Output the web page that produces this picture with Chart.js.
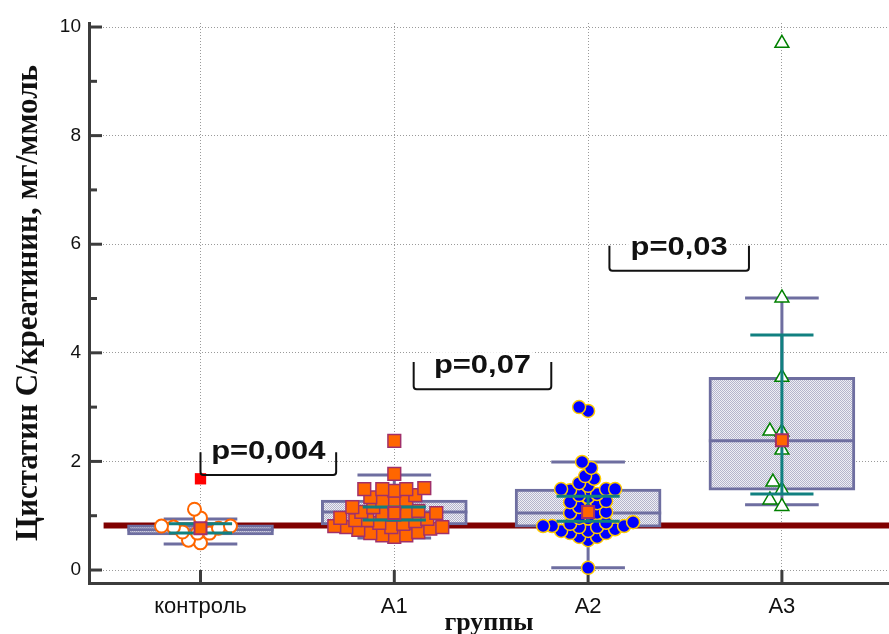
<!DOCTYPE html>
<html>
<head>
<meta charset="utf-8">
<script src="https://cdn.jsdelivr.net/npm/chart.js@4"></script>
<style>
  html, body { margin: 0; padding: 0; background: #fff; }
  canvas { display: block; }
</style>
</head>
<body>
<canvas id="chart" width="889" height="634"></canvas>
<script>
// groups along the x axis
const groups = ['контроль', 'А1', 'А2', 'А3'];

// individual ratios per group
const control = [1.12, 0.96, 0.81, 0.81, 0.79, 0.77, 0.70, 0.68, 0.68, 0.55, 0.50];
const controlOutlier = [1.68];
const a1 = [2.38, 1.77, 1.51, 1.49, 1.49, 1.49, 1.46, 1.38, 1.34, 1.29, 1.27, 1.23, 1.16, 1.16,
  1.09, 1.07, 1.05, 1.05, 1.05, 1.02, 0.96, 0.94, 0.92, 0.92, 0.90, 0.87, 0.85, 0.81,
  0.79, 0.79, 0.79, 0.76, 0.74, 0.70, 0.68, 0.64, 0.64, 0.61];
const a2 = [3.00, 2.93, 1.99, 1.88, 1.73, 1.68, 1.60, 1.55, 1.49, 1.49, 1.49, 1.47, 1.40, 1.38,
  1.34, 1.27, 1.25, 1.23, 1.16, 1.12, 1.07, 1.05, 1.05, 0.96, 0.95, 0.88, 0.87, 0.85,
  0.81, 0.81, 0.81, 0.79, 0.79, 0.75, 0.72, 0.72, 0.68, 0.68, 0.61, 0.61, 0.55, 0.04];
const a3 = [9.70, 5.01, 3.55, 2.56, 2.54, 2.21, 1.62, 1.47, 1.29, 1.17];

// box statistics per group
const q1 = [0.645, 0.83, 0.79, 1.47];
const median = [0.74, 1.07, 1.05, 2.38];
const q3 = [0.83, 1.29, 1.49, 3.55];
const whiskerLow = [0.48, 0.59, 0.04, 1.20];
const whiskerHigh = [0.94, 1.75, 1.99, 5.01];
const ciLow = [0.68, 0.92, 0.90, 1.40];
const ciHigh = [0.85, 1.16, 1.36, 4.33];
const centre = [0.77, 1.05, 1.07, 2.39];

// reference level across the plot
const refLevel = 0.82;

// p-values between groups
const pValues = ['p=0,004', 'p=0,07', 'p=0,03'];

// bracket placement for the p-values (x from/to, y bottom/top)
const pMarks = [
  {from: 1.0, to: 1.70, low: 1.75, high: 2.17},
  {from: 2.10, to: 2.81, low: 3.33, high: 3.83},
  {from: 3.11, to: 3.83, low: 5.51, high: 5.97}
];

const SLATE = '#6e6ea0';
const TEAL = '#118080';
const BOX_HALF = 0.377, CAP_HALF = 0.19, CI_HALF = 0.163;
const X_MIN = 0.4247, X_MAX = 4.5526;

// dotted light fill for the boxes
function boxPattern() {
  const c = document.createElement('canvas');
  c.width = 2; c.height = 2;
  const g = c.getContext('2d');
  g.fillStyle = '#eeeef4';
  g.fillRect(0, 0, 2, 2);
  g.fillStyle = '#b4b4cc';
  g.fillRect(0, 0, 1, 1);
  g.fillRect(1, 1, 1, 1);
  return g.createPattern(c, 'repeat');
}

function hLines(vals, half) {
  const d = [];
  vals.forEach((v, i) => {
    d.push({x: i + 1 - half, y: v}, {x: i + 1 + half, y: v}, {x: i + 1, y: null});
  });
  return d;
}

function vLines(lo, hi) {
  const d = [];
  lo.forEach((v, i) => {
    d.push({x: i + 1, y: v}, {x: i + 1, y: hi[i]}, {x: i + 1, y: null});
  });
  return d;
}

// spread points sideways so they do not pile up (pixel units)
function swarm(values, pos, ux, uy, gap) {
  const placed = [];
  const idx = values.map((v, i) => i).sort((a, b) => values[a] - values[b]);
  const out = [];
  idx.forEach(i => {
    const py = values[i] * uy;
    let k = 0, off = 0;
    while (true) {
      off = (k % 2 ? -1 : 1) * Math.ceil(k / 2) * 3;
      if (placed.every(p => Math.hypot(p.x - off, p.y - py) >= gap)) break;
      k++;
    }
    placed.push({x: off, y: py});
    out.push({x: pos + off / ux, y: values[i]});
  });
  return out;
}

const lineSet = (data, color, width, order) => ({
  type: 'line', data: data, borderColor: color, borderWidth: width,
  pointRadius: 0, spanGaps: false, tension: 0, order: order
});

const axisMarks = {
  id: 'axisMarks',
  beforeDatasetsDraw(chart) {
    const {ctx, chartArea, scales: {x, y}} = chart;
    ctx.save();
    ctx.strokeStyle = '#3c3c3c';
    ctx.lineWidth = 3;
    y.ticks.forEach(t => {
      const py = y.getPixelForValue(t.value);
      const len = t.value % 2 === 0 ? 13 : 8;
      ctx.beginPath();
      ctx.moveTo(chartArea.left, py);
      ctx.lineTo(chartArea.left + len, py);
      ctx.stroke();
    });
    x.ticks.forEach(t => {
      const px = x.getPixelForValue(t.value);
      ctx.beginPath();
      ctx.moveTo(px, chartArea.bottom);
      ctx.lineTo(px, chartArea.bottom - 13);
      ctx.stroke();
    });
    ctx.restore();
  }
};

const brackets = {
  id: 'brackets',
  afterDatasetsDraw(chart) {
    const {ctx, scales: {x, y}} = chart;
    ctx.save();
    pMarks.forEach((m, i) => {
      const x0 = x.getPixelForValue(m.from), x1 = x.getPixelForValue(m.to);
      const yb = y.getPixelForValue(m.low), yt = y.getPixelForValue(m.high);
      ctx.strokeStyle = '#111';
      ctx.lineWidth = 2;
      ctx.beginPath();
      ctx.moveTo(x0, yt);
      ctx.arcTo(x0, yb, x1, yb, 3);
      ctx.arcTo(x1, yb, x1, yt, 3);
      ctx.lineTo(x1, yt);
      ctx.stroke();

      ctx.save();
      ctx.translate((x0 + x1) / 2, yb - 16);
      ctx.scale(1.19, 1);
      ctx.font = 'bold 26px "Liberation Sans", Arial, sans-serif';
      const w = ctx.measureText(pValues[i]).width;
      ctx.fillStyle = '#fff';
      ctx.fillRect(-w / 2 - 2, -21, w + 4, 28);
      ctx.fillStyle = '#111';
      ctx.textAlign = 'center';
      ctx.textBaseline = 'alphabetic';
      ctx.fillText(pValues[i], 0, 0);
      ctx.restore();
    });
    ctx.restore();
  }
};

const pointStyles = [
  {values: control, style: 'circle', radius: 6.5, fill: '#ffffff', line: '#ff6600', width: 2, gap: 10},
  {values: a1, style: 'rect', radius: 9, fill: '#ff6600', line: '#a0306a', width: 1.5, gap: 10},
  {values: a2, style: 'circle', radius: 6.5, fill: '#0000ff', line: '#ffcc00', width: 1.5, gap: 9},
  {values: a3, style: 'triangle', radius: 8, fill: '#ffffff', line: '#008000', width: 1.5, gap: 12}
];

const datasets = [
  // centre markers on top
  {
    type: 'scatter',
    data: centre.map((v, i) => ({x: i + 1, y: v})),
    pointStyle: 'rect', pointRadius: 8.5, backgroundColor: '#ff6600',
    borderColor: '#a0306a', borderWidth: 2, order: 0
  },
  {
    type: 'scatter',
    data: controlOutlier.map(v => ({x: 1, y: v})),
    pointStyle: 'rect', pointRadius: 8, backgroundColor: '#ff0000',
    borderWidth: 0, order: 0
  },
  lineSet(hLines(ciLow, CI_HALF).concat(hLines(ciHigh, CI_HALF)), TEAL, 3, 1),
  lineSet(vLines(ciLow, ciHigh), TEAL, 3, 1)
];

const pointIndex = datasets.length;
pointStyles.forEach((p, i) => {
  datasets.push({
    type: 'scatter',
    data: p.values.map(v => ({x: i + 1, y: v})),
    pointStyle: p.style, pointRadius: p.radius, backgroundColor: p.fill,
    borderColor: p.line, borderWidth: p.width, order: 2
  });
});

datasets.push(
  lineSet(hLines(whiskerLow, CAP_HALF).concat(hLines(whiskerHigh, CAP_HALF)), SLATE, 3, 3),
  lineSet(hLines(median, BOX_HALF), SLATE, 3, 4),
  {
    type: 'bar',
    data: groups.map((g, i) => ({x: i + 1, y: [q1[i], q3[i]]})),
    backgroundColor: boxPattern(), borderColor: SLATE, borderWidth: 3,
    borderSkipped: false, barThickness: 146, order: 5
  },
  lineSet(vLines(whiskerLow, whiskerHigh), SLATE, 3, 6),
  lineSet([{x: 0.5, y: refLevel}, {x: X_MAX, y: refLevel}], '#800000', 6, 7)
);

const chart = new Chart(document.getElementById('chart'), {
  type: 'scatter',
  data: {datasets: datasets},
  plugins: [axisMarks, brackets],
  options: {
    responsive: false,
    animation: false,
    layout: {autoPadding: false, padding: {top: 23, right: 0, left: 0, bottom: 0}},
    plugins: {legend: {display: false}, tooltip: {enabled: false}},
    scales: {
      x: {
        type: 'linear',
        offset: false,
        min: X_MIN,
        max: X_MAX,
        afterFit: s => { s.height = 51; s.paddingLeft = 0; s.paddingRight = 0; },
        afterBuildTicks: s => { s.ticks = groups.map((g, i) => ({value: i + 1})); },
        grid: {color: '#9a9a9a', lineWidth: 1, drawTicks: false, offset: false},
        border: {display: true, color: '#3c3c3c', width: 3, dash: [1, 2]},
        ticks: {
          padding: 11, maxRotation: 0, color: '#111',
          font: {family: '"Liberation Sans", Arial, sans-serif', size: 22},
          callback: v => groups[Math.round(v) - 1]
        },
        title: {
          display: true, text: 'группы', color: '#111',
          font: {family: '"Liberation Serif", "Times New Roman", serif', size: 26, weight: 'bold'},
          padding: {top: 0, bottom: -5}
        }
      },
      y: {
        type: 'linear',
        min: -0.239,
        max: 10.074,
        afterFit: s => { s.width = 89; s.paddingTop = 0; s.paddingBottom = 0; },
        afterBuildTicks: s => {
          s.ticks = [0, 1, 2, 3, 4, 5, 6, 7, 8, 9, 10].map(v => ({value: v}));
        },
        grid: {
          color: c => (c.tick && c.tick.value % 2 === 0) ? '#9a9a9a' : 'rgba(0,0,0,0)',
          lineWidth: 1, drawTicks: false
        },
        border: {display: true, color: '#3c3c3c', width: 3, dash: [1, 2]},
        ticks: {
          padding: 8, color: '#111',
          font: {family: '"Liberation Sans", Arial, sans-serif', size: 19},
          callback: v => (v % 2 === 0 ? String(v) : '')
        },
        title: {
          display: true, text: 'Цистатин С/креатинин, мг/ммоль', color: '#111',
          font: {family: '"Liberation Serif", "Times New Roman", serif', size: 31, weight: 'bold'},
          padding: {top: 10, bottom: 0}
        }
      }
    }
  }
});

// lay the individual points out as a swarm around each group centre
const sx = chart.scales.x, sy = chart.scales.y;
const ux = sx.getPixelForValue(2) - sx.getPixelForValue(1);
const uy = sy.getPixelForValue(0) - sy.getPixelForValue(1);
pointStyles.forEach((p, i) => {
  chart.data.datasets[pointIndex + i].data = swarm(p.values, i + 1, ux, uy, p.gap);
});
chart.update('none');
</script>
</body>
</html>
